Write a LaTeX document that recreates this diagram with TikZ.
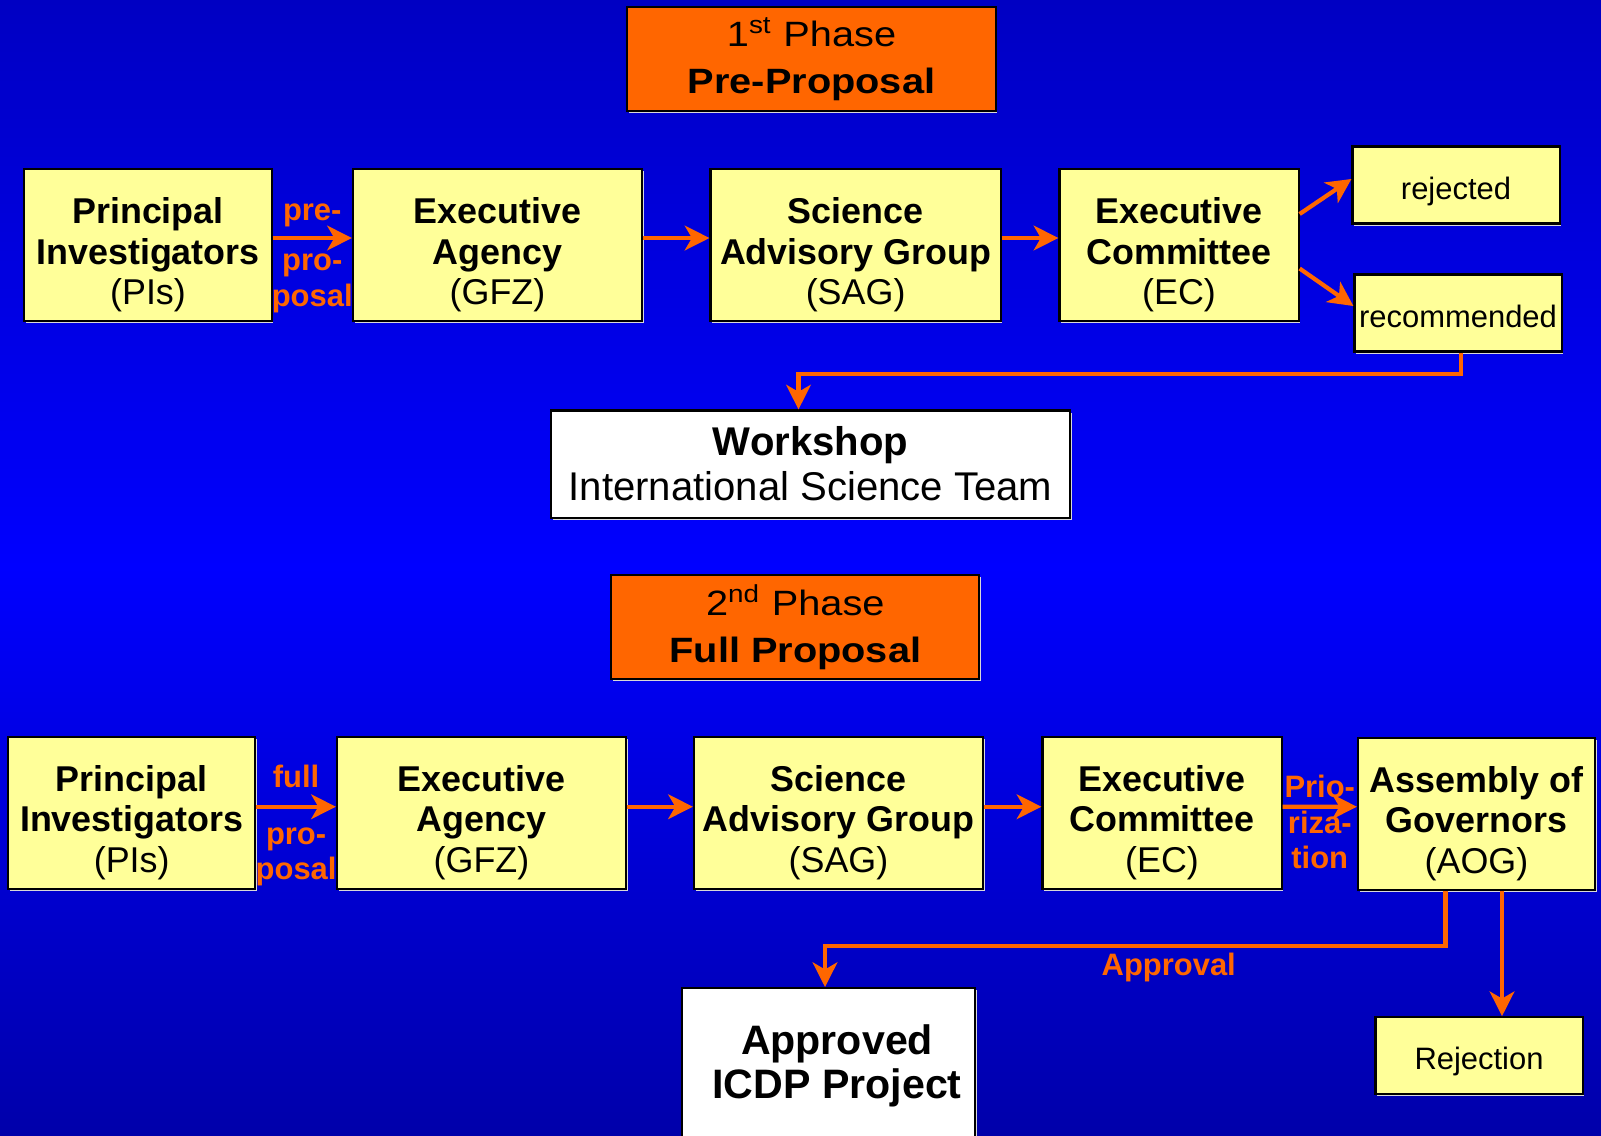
\documentclass[tikz,border=0pt]{standalone}
\usepackage{fontspec}
\setmainfont{Liberation Sans}
\newfontfamily\widefont[FakeStretch=1.13]{Liberation Sans}
\usetikzlibrary{arrows.meta,shadows}
\definecolor{boxyellow}{RGB}{255,255,153}
\definecolor{phaseorange}{RGB}{255,102,0}
\definecolor{arrorange}{RGB}{255,102,0}
\definecolor{bgtop}{RGB}{0,0,195}
\definecolor{bgmid}{RGB}{0,0,255}
\definecolor{bgbot}{RGB}{0,0,170}
\newcommand{\topgap}{\rule{0pt}{13pt}}

\begin{document}
\begin{tikzpicture}[x=0.01cm, y=-0.01cm, >={Stealth[length=7pt,width=7pt,inset=2pt]},
 box/.style={draw, line width=0.6pt, fill=boxyellow, align=center, inner sep=0pt,
  drop shadow={shadow xshift=0.5pt, shadow yshift=-0.6pt, fill=white!70!gray, opacity=1},
  font=\fontsize{10.2pt}{11.5pt}\selectfont},
 bigbox/.style={box, minimum height=1.52cm},
 smallbox/.style={box, minimum width=2.07cm, minimum height=0.77cm, text height=8pt, text depth=0pt,
  font=\fontsize{8.8pt}{10pt}\selectfont},
 phase/.style={box, fill=phaseorange, minimum width=3.68cm, minimum height=1.04cm,
  font=\widefont\fontsize{10pt}{13.4pt}\selectfont},
 whitebox/.style={box, fill=white},
 flow/.style={->, draw=arrorange, line width=1.2pt},
 lbl/.style={text=arrorange, align=center, inner sep=0pt, font=\bfseries\fontsize{8.8pt}{10pt}\selectfont}]
\useasboundingbox (0,0) rectangle (1601,1135);
\fill[top color=bgtop, bottom color=bgbot, middle color=bgmid] (0,0) rectangle (1601,1135);

% 1st phase
\node[phase] (ph1) at (811.5,59) {1\textsuperscript{st} Phase\\\textbf{Pre-Proposal}};
\node[bigbox, minimum width=2.47cm] (pi1) at (148,245) {\topgap\textbf{Principal}\\\textbf{Investigators}\\(PIs)};
\node[bigbox, minimum width=2.89cm] (ea1) at (497.5,245) {\topgap\textbf{Executive}\\\textbf{Agency}\\(GFZ)};
\node[bigbox, minimum width=2.90cm] (sag1) at (855.6,245) {\topgap\textbf{Science}\\\textbf{Advisory Group}\\(SAG)};
\node[bigbox, minimum width=2.39cm] (ec1) at (1179,245) {\topgap\textbf{Executive}\\\textbf{Committee}\\(EC)};
\node[smallbox] (rej1) at (1456,185) {rejected};
\node[smallbox] (rec1) at (1458,313) {recommended};
\node[whitebox, minimum width=5.19cm, minimum height=1.07cm, font=\fontsize{11.4pt}{12.8pt}\selectfont] (ws) at (810.5,464) {\textbf{Workshop}\\International Science Team};

\draw[flow] ([yshift=0.07cm]pi1.east) -- node[lbl, above=2.6pt] {pre-} node[lbl, below=4pt] {pro-\\posal} ([yshift=0.07cm]ea1.west);
\draw[flow] ([yshift=0.07cm]ea1.east) -- ([yshift=0.07cm]sag1.west);
\draw[flow] ([yshift=0.07cm]sag1.east) -- ([yshift=0.07cm]ec1.west);
\draw[flow] ([yshift=0.31cm]ec1.east) -- ([yshift=0.06cm]rej1.west);
\draw[flow] ([yshift=-0.235cm]ec1.east) -- ([yshift=0.07cm]rec1.west);
\draw[flow] ([xshift=0.03cm]rec1.south) -- ++(0,21.5) -| ([xshift=-0.12cm]ws.north);

% 2nd phase
\node[phase] (ph2) at (795.3,627) {2\textsuperscript{nd} Phase\\\textbf{Full Proposal}};
\node[bigbox, minimum width=2.47cm] (pi2) at (131.7,812.7) {\topgap\textbf{Principal}\\\textbf{Investigators}\\(PIs)};
\node[bigbox, minimum width=2.89cm] (ea2) at (481.5,812.7) {\topgap\textbf{Executive}\\\textbf{Agency}\\(GFZ)};
\node[bigbox, minimum width=2.89cm] (sag2) at (838.5,812.7) {\topgap\textbf{Science}\\\textbf{Advisory Group}\\(SAG)};
\node[bigbox, minimum width=2.39cm] (ec2) at (1162,812.7) {\topgap\textbf{Executive}\\\textbf{Committee}\\(EC)};
\node[bigbox, minimum width=2.37cm] (aog) at (1476.5,813.7) {\topgap\textbf{Assembly of}\\\textbf{Governors}\\(AOG)};
\node[whitebox, minimum width=2.93cm, minimum height=2.0cm, anchor=north] (appr) at (828.5,987) {};
\node[align=center, inner sep=0pt, font=\bfseries\fontsize{11.7pt}{12.5pt}\selectfont] (appr_txt) at (837,1066) {Approved\\ICDP Project};
\node[smallbox] (rejn) at (1479,1055.7) {Rejection};

\draw[flow] ([yshift=0.06cm]pi2.east) -- node[lbl, above=4.8pt] {full} node[lbl, below=5.3pt] {pro-\\posal} ([yshift=0.06cm]ea2.west);
\draw[flow] ([yshift=0.06cm]ea2.east) -- ([yshift=0.06cm]sag2.west);
\draw[flow] ([yshift=0.06cm]sag2.east) -- ([yshift=0.06cm]ec2.west);
\draw[flow] ([yshift=0.06cm]ec2.east) -- node[lbl, above=2pt] {Prio-} node[lbl, below=0.5pt] {riza-\\tion} ([yshift=0.07cm]aog.west);
\draw[flow] ([xshift=-0.31cm]aog.south) -- ++(0,55) -| node[lbl, below=1.4pt, pos=0.223] {Approval} ([xshift=-0.035cm]appr.north);
\coordinate (aog_r) at ([xshift=0.255cm]aog.south);
\draw[flow] (aog_r) -- (aog_r |- rejn.north);
\end{tikzpicture}
\end{document}
